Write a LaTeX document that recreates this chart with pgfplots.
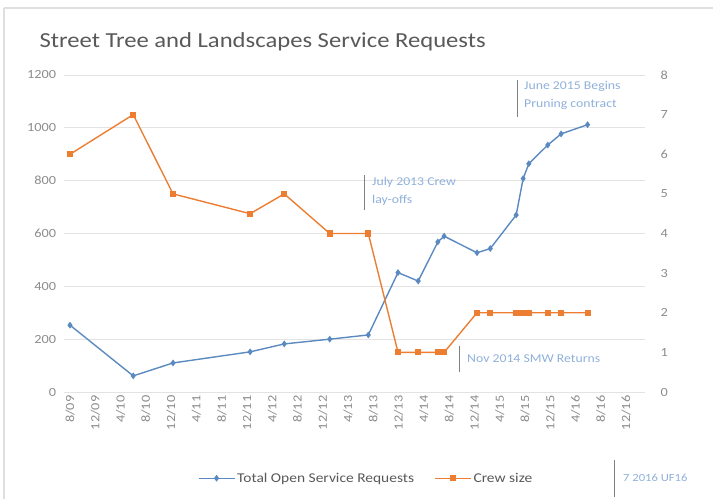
\documentclass[border=0pt]{standalone}
\usepackage{pgfplots}
\pgfplotsset{compat=1.18}
\usepackage{fontspec}
\setmainfont{Carlito}[FakeStretch=1.15]

\definecolor{reqblue}{HTML}{5A8AC0}
\definecolor{crewor}{HTML}{ED7D31}
\definecolor{gridg}{HTML}{E3E3E3}
\definecolor{ticktxt}{HTML}{8C8C8C}
\definecolor{notetxt}{HTML}{8FB0DA}
\definecolor{titletxt}{HTML}{595959}

% months since Aug 2009
\pgfplotstableread{
m    req
0    253
10   61
16.3 110
28.5 152
33.9 182
41.1 200
47.2 216
51.9 452
55.1 420
58.2 568
59.2 590
64.4 527
66.5 543
70.6 670
71.7 808
72.6 864
75.6 935
77.7 977
81.9 1012
}\requests

\pgfplotstableread{
m    crew
0    6
10   7
16.3 5
28.5 4.5
33.9 5
41.1 4
47.2 4
51.9 1
55.1 1
58.2 1
59.2 1
64.4 2
66.5 2
70.6 2
71.2 2
71.7 2
72.6 2
75.6 2
77.7 2
81.9 2
}\crew

\pgfplotsset{
  base/.style={
    at={(63.7bp,-392bp)}, anchor=south west,
    scale only axis, width=581.4bp, height=317bp,
    xmin=-1, xmax=91,
    axis line style={draw=none},
    tick style={draw=none},
    yticklabel style={font=\fontsize{12.5}{14}\selectfont, text=ticktxt,
      /pgf/number format/assume math mode=true},
  }
}

\begin{document}
\begin{tikzpicture}
\path[use as bounding box] (0,0) rectangle (715bp,-499bp);
\draw[gray!25, line width=1.5pt] (4bp,-8bp) -- (713bp,-8bp);
\draw[gray!25, line width=1.5pt] (4bp,-8bp) -- (4bp,-499bp);

\node[anchor=west, text=titletxt, font=\fontsize{21.5}{25}\selectfont] at (36bp,-42bp)
  {Street Tree and Landscapes Service Requests};

\begin{axis}[base,
  ymin=0, ymax=1200, ytick={0,200,...,1200},
  ymajorgrids, grid style={gridg, line width=0.8pt},
  yticklabel style={xshift=-4bp},
  xtick={0,4,...,88},
  xticklabels={8/09,12/09,4/10,8/10,12/10,4/11,8/11,12/11,4/12,8/12,12/12,4/13,8/13,12/13,4/14,8/14,12/14,4/15,8/15,12/15,4/16,8/16,12/16},
  xticklabel style={rotate=90, anchor=east, font=\fontsize{12.5}{14}\selectfont, text=ticktxt},
  scaled y ticks=false,
  yticklabel={\pgfmathprintnumber[1000 sep={}]{\tick}},
]
\addplot[reqblue, line width=1.4pt, mark=diamond*, mark size=2.3pt] table[x=m, y=req] {\requests};
\end{axis}

\begin{axis}[base,
  ymin=0, ymax=8, ytick={0,1,...,8},
  axis y line*=right, axis x line=none,
  yticklabel style={xshift=12bp},
  legend image code/.code={
    \draw[mark repeat=2, mark phase=2] plot coordinates {(0bp,0bp) (18bp,0bp) (36bp,0bp)};},
  legend style={at={(0.52,-0.272)}, anchor=center, draw=none,
    font=\fontsize{13.5}{15}\selectfont, text=titletxt,
    legend columns=2, /tikz/every even column/.append style={column sep=18bp}},
]
\addlegendimage{reqblue, line width=1.4pt, mark=diamond*, mark size=2.3pt}
\addlegendentry{Total Open Service Requests}
\addplot[crewor, line width=1.4pt, mark=square*, mark size=2.4pt] table[x=m, y=crew] {\crew};
\addlegendentry{Crew size}
\end{axis}

\begin{scope}[x=1bp, y=-1bp]
  \draw[gray, line width=1pt] (517,80) -- (517,117);
  \node[anchor=north west, align=left, text=notetxt, inner sep=0pt,
    font=\fontsize{12}{18}\selectfont] at (524,81) {June 2015 Begins\\Pruning contract};
  \draw[gray, line width=1pt] (364,175) -- (364,210);
  \node[anchor=north west, align=left, text=notetxt, inner sep=0pt,
    font=\fontsize{12}{18}\selectfont] at (372,177) {July 2013 Crew\\lay-offs};
  \draw[gray, line width=1pt] (459,346) -- (459,372);
  \node[anchor=west, text=notetxt, inner sep=0pt,
    font=\fontsize{12}{14}\selectfont] at (467,359) {Nov 2014 SMW Returns};
  \draw[gray, line width=1pt] (614,460) -- (614,497);
  \node[anchor=west, text=notetxt, inner sep=0pt,
    font=\fontsize{11}{13}\selectfont] at (623,478) {7 2016 UF16};
\end{scope}
\end{tikzpicture}
\end{document}
